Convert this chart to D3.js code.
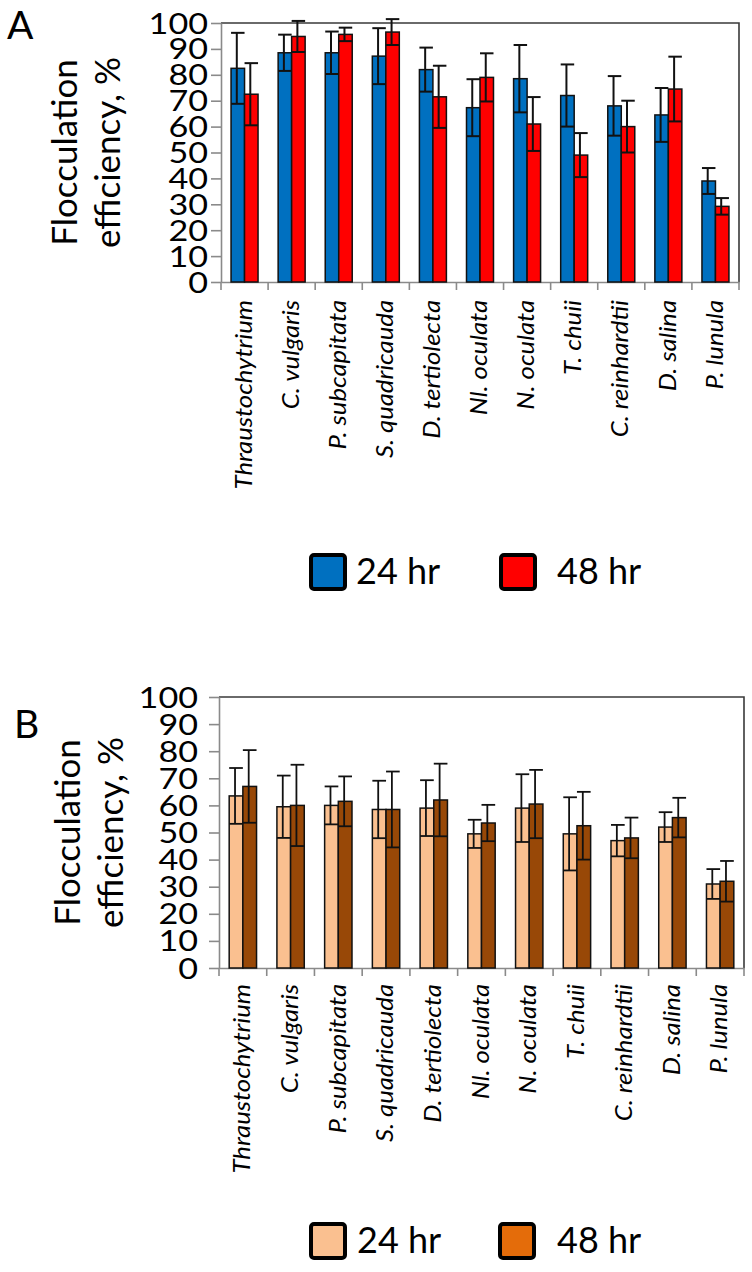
<!DOCTYPE html>
<html>
<head>
<meta charset="utf-8">
<script src="https://cdn.jsdelivr.net/npm/d3@7"></script>
<style>
  html, body { margin: 0; padding: 0; background: #fff; }
  svg { display: block; }
  text { font-family: Lato, "Open Sans", sans-serif; fill: #000; }
</style>
</head>
<body>
<svg id="chart" width="752" height="1272"></svg>
<script>
// ---------- data ----------
const categories = ["Thraustochytrium", "C. vulgaris", "P. subcapitata", "S. quadricauda",
  "D. tertiolecta", "Nl. oculata", "N. oculata", "T. chuii", "C. reinhardtii", "D. salina", "P. lunula"];
const seriesNames = ["24 hr", "48 hr"];
const yTicks = [0, 10, 20, 30, 40, 50, 60, 70, 80, 90, 100];
const yTitleLines = ["Flocculation", "efficiency, %"];
const panelLetters = ["A", "B"];

// Panel A
const a24 = [82.5, 88.5, 88.5, 87.2, 82.0, 67.3, 78.5, 72.0, 68.0, 64.5, 39.0];
const a24Err = [13.7, 7.0, 8.2, 10.8, 8.5, 11.0, 13.0, 12.0, 11.5, 10.4, 5.0];
const a48 = [72.5, 94.8, 95.6, 96.5, 71.5, 79.0, 61.0, 49.0, 60.0, 74.5, 29.2];
const a48Err = [12.0, 6.0, 2.6, 5.0, 12.0, 9.3, 10.4, 8.5, 10.0, 12.5, 3.2];

// Panel B
const b24 = [63.5, 59.5, 60.0, 58.5, 59.0, 49.5, 59.0, 49.5, 47.0, 52.0, 31.0];
const b24Err = [10.3, 11.5, 7.0, 10.6, 10.3, 5.2, 12.5, 13.5, 5.8, 5.5, 5.5];
const b48 = [67.0, 60.0, 61.5, 58.5, 62.0, 53.5, 60.5, 52.5, 48.0, 55.5, 32.0];
const b48Err = [13.4, 15.0, 9.2, 14.0, 13.4, 6.7, 12.6, 12.5, 7.5, 7.3, 7.5];

// ---------- drawing ----------
const svg = d3.select("#chart");
const TICK_SCALE = 1.22;
const XL_SCALE = 1.07;

function drawPanel(cfg) {
  const g = svg.append("g");
  const x = d3.scaleBand().domain(categories).range([cfg.left, cfg.right]);
  const xs = d3.scaleBand().domain(seriesNames).range([0, x.bandwidth()]).paddingOuter(0.745);
  const y = d3.scaleLinear().domain([0, 100]).range([cfg.bottom, cfg.top]);

  // top & right frame
  g.append("path")
    .attr("d", `M${cfg.left},${cfg.top}H${cfg.right}V${cfg.bottom}`)
    .attr("fill", "none").attr("stroke", "#3a3a3a").attr("stroke-width", 1.6);

  // y axis
  const yAxis = g.append("g").attr("transform", `translate(${cfg.left},0)`)
    .call(d3.axisLeft(y).tickValues(yTicks).tickSize(10).tickPadding(0).tickSizeOuter(0));
  yAxis.select(".domain").attr("stroke", "#8a8a8a").attr("stroke-width", 1.6);
  yAxis.selectAll(".tick line").attr("stroke", "#8a8a8a").attr("stroke-width", 1.6);
  yAxis.selectAll(".tick text")
    .attr("font-size", 28)
    .attr("x", -cfg.yLabelGap / TICK_SCALE)
    .attr("dy", "0.36em")
    .attr("transform", `scale(${TICK_SCALE},1)`)
    .attr("fill", "#000");

  // x axis
  const xAxis = g.append("g").attr("transform", `translate(0,${cfg.bottom})`)
    .call(d3.axisBottom(x).tickSize(0).tickSizeOuter(0));
  xAxis.select(".domain").attr("stroke", "#8a8a8a").attr("stroke-width", 1.6);
  xAxis.selectAll(".tick text")
    .attr("font-size", 24)
    .attr("font-style", "italic")
    .attr("text-anchor", "end")
    .attr("x", -cfg.xLabelGap / XL_SCALE)
    .attr("y", 0)
    .attr("dy", "0.3em")
    .attr("transform", `rotate(-90) scale(${XL_SCALE},1)`)
    .attr("fill", "#000");
  // boundary ticks
  const bounds = categories.map(c => x(c)).concat([cfg.right]);
  g.append("g").selectAll("line").data(bounds).join("line")
    .attr("x1", d => d).attr("x2", d => d)
    .attr("y1", cfg.bottom).attr("y2", cfg.bottom + 8)
    .attr("stroke", "#8a8a8a").attr("stroke-width", 1.6);

  // bars
  const series = seriesNames.map((s, i) => ({ name: s, values: cfg.values[i], errs: cfg.errs[i], color: cfg.colors[i] }));
  series.forEach(s => {
    const rows = categories.map((c, k) => ({ c, v: s.values[k], e: s.errs[k] }));
    const bw = xs.bandwidth();
    const sg = g.append("g");
    sg.selectAll("rect").data(rows).join("rect")
      .attr("x", d => x(d.c) + xs(s.name))
      .attr("y", d => y(d.v))
      .attr("width", bw)
      .attr("height", d => y(0) - y(d.v))
      .attr("fill", s.color)
      .attr("stroke", "#111").attr("stroke-width", 1.5);
    const eg = sg.selectAll("g.err").data(rows).join("g").attr("class", "err")
      .attr("stroke", "#111").attr("stroke-width", cfg.errWidth);
    eg.append("line")
      .attr("x1", d => x(d.c) + xs(s.name) + bw / 2 - 1)
      .attr("x2", d => x(d.c) + xs(s.name) + bw / 2 - 1)
      .attr("y1", d => y(d.v - d.e)).attr("y2", d => y(d.v + d.e));
    eg.append("line")
      .attr("x1", d => x(d.c) + xs(s.name)).attr("x2", d => x(d.c) + xs(s.name) + bw)
      .attr("y1", d => y(d.v + d.e)).attr("y2", d => y(d.v + d.e));
    eg.append("line")
      .attr("x1", d => x(d.c) + xs(s.name)).attr("x2", d => x(d.c) + xs(s.name) + bw)
      .attr("y1", d => y(d.v - d.e)).attr("y2", d => y(d.v - d.e));
  });

  // y title
  const cy = (cfg.top + cfg.bottom) / 2;
  yTitleLines.forEach((t, i) => {
    g.append("text")
      .attr("transform", `translate(${cfg.titleX[i]},${cy}) rotate(-90)`)
      .attr("text-anchor", "middle")
      .attr("font-size", 35)
      .text(t);
  });

  // panel letter
  g.append("text").attr("x", cfg.letterPos[0]).attr("y", cfg.letterPos[1])
    .attr("font-size", 39).text(cfg.letter);

  // legend
  const lg = g.append("g");
  seriesNames.forEach((s, i) => {
    const lx = cfg.legendX[i], ly = cfg.legendY;
    lg.append("rect").attr("x", lx + 2).attr("y", ly + 2).attr("width", 34).attr("height", 34)
      .attr("rx", 3).attr("fill", cfg.legendColors[i]).attr("stroke", "#000").attr("stroke-width", 4);
    lg.append("text").attr("x", cfg.legendTextX[i]).attr("y", ly + 31)
      .attr("font-size", 36).text(s);
  });
}

drawPanel({
  left: 221, right: 739, top: 23, bottom: 282,
  values: [a24, a48], errs: [a24Err, a48Err],
  colors: ["#0070C0", "#FF0000"], legendColors: ["#0070C0", "#FF0000"],
  yLabelGap: 13, xLabelGap: 18, errWidth: 2,
  titleX: [77, 120], letter: panelLetters[0], letterPos: [7, 39],
  legendX: [309, 499], legendY: 553, legendTextX: [356, 557]
});

drawPanel({
  left: 219, right: 744, top: 697, bottom: 968,
  values: [b24, b48], errs: [b24Err, b48Err],
  colors: ["#FAC090", "#984807"], legendColors: ["#FAC090", "#E46C0A"],
  yLabelGap: 21, xLabelGap: 16, errWidth: 1.8,
  titleX: [80, 123], letter: panelLetters[1], letterPos: [14, 738],
  legendX: [309, 498], legendY: 1222, legendTextX: [357, 557]
});
</script>
</body>
</html>
